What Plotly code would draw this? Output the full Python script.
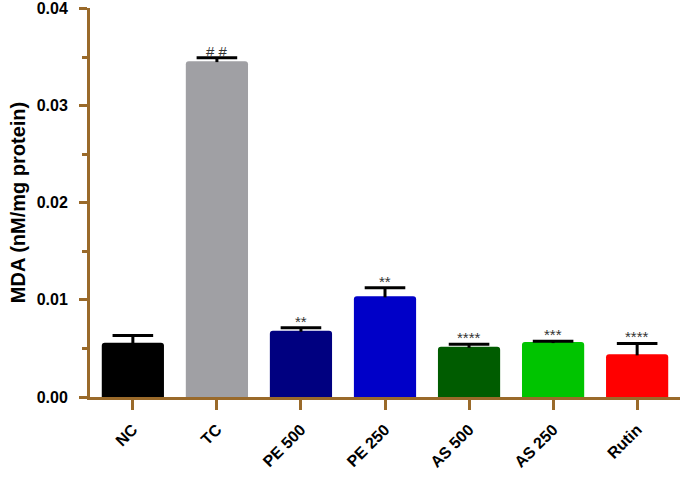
import plotly.graph_objects as go

# 데이터
groups = ["NC", "TC", "PE 500", "PE 250", "AS 500", "AS 250", "Rutin"]
mda = [0.00558, 0.03458, 0.00682, 0.01036, 0.00517, 0.00565, 0.00439]
sem = [0.00076, 0.00035, 0.00031, 0.00089, 0.00025, 0.00010, 0.00113]
marks = ["", "#&nbsp;#", "**", "**", "****", "***", "****"]
colors = ["#000000", "#A0A0A4", "#000080", "#0000C8", "#005C00", "#00C400", "#FF0000"]

AXIS = "#9A6A2A"
FONT = "Arial, Liberation Sans, sans-serif"

fig = go.Figure()

fig.add_trace(go.Bar(
    x=groups, y=mda, width=0.74,
    marker=dict(color=colors, line=dict(width=0), cornerradius=3),
    showlegend=False, hoverinfo="y",
))

# 위쪽 에러바만 (캡 = 마커, 줄기 = 아래 방향 error_y)
tops = [v + e for v, e in zip(mda, sem)]
fig.add_trace(go.Scatter(
    x=groups, y=tops, mode="markers",
    marker=dict(symbol="line-ew-open", size=29, color="black", line=dict(width=3, color="black")),
    error_y=dict(type="data", array=[0] * len(sem), arrayminus=[e + 0.0001 for e in sem],
                 symmetric=False, color="black", thickness=3, width=0),
    showlegend=False, hoverinfo="skip",
))

# 유의성 표시
for g, t, m in zip(groups, tops, marks):
    if not m:
        continue
    fig.add_annotation(x=g, y=t, text=m, showarrow=False, yanchor="bottom",
                       yshift=-4, font=dict(size=15, color="#333333", family=FONT))

fig.update_layout(
    width=685, height=477,
    margin=dict(l=90, r=5, t=8, b=80),
    plot_bgcolor="white", paper_bgcolor="white",
    xaxis=dict(
        range=[-0.51, 6.51], showline=True, linecolor=AXIS, linewidth=3,
        ticks="outside", ticklen=10, tickwidth=3, tickcolor=AXIS,
        tickangle=-45, showgrid=False, zeroline=False, automargin=False,
        ticklabelstandoff=4,
        tickfont=dict(size=16, family=FONT, color="black", weight="bold"),
    ),
    yaxis=dict(
        range=[0, 0.04005], showline=True, linecolor=AXIS, linewidth=3,
        ticks="outside", ticklen=8, tickwidth=3, tickcolor=AXIS,
        tickvals=[0, 0.01, 0.02, 0.03, 0.04], tickformat=".2f",
        showgrid=False, zeroline=False, automargin=False,
        ticklabelstandoff=8,
        minor=dict(tickvals=[0.005, 0.015, 0.025, 0.035], ticks="outside",
                   ticklen=5, tickwidth=3, tickcolor=AXIS),
        tickfont=dict(size=16, family=FONT, color="black", weight="bold"),
        title=dict(text="MDA (nM/mg protein)", standoff=6,
                   font=dict(size=20, family=FONT, color="black", weight="bold")),
    ),
)

fig.write_html("out.html", config={"displayModeBar": False},
               post_script="document.body.style.margin='0';")
